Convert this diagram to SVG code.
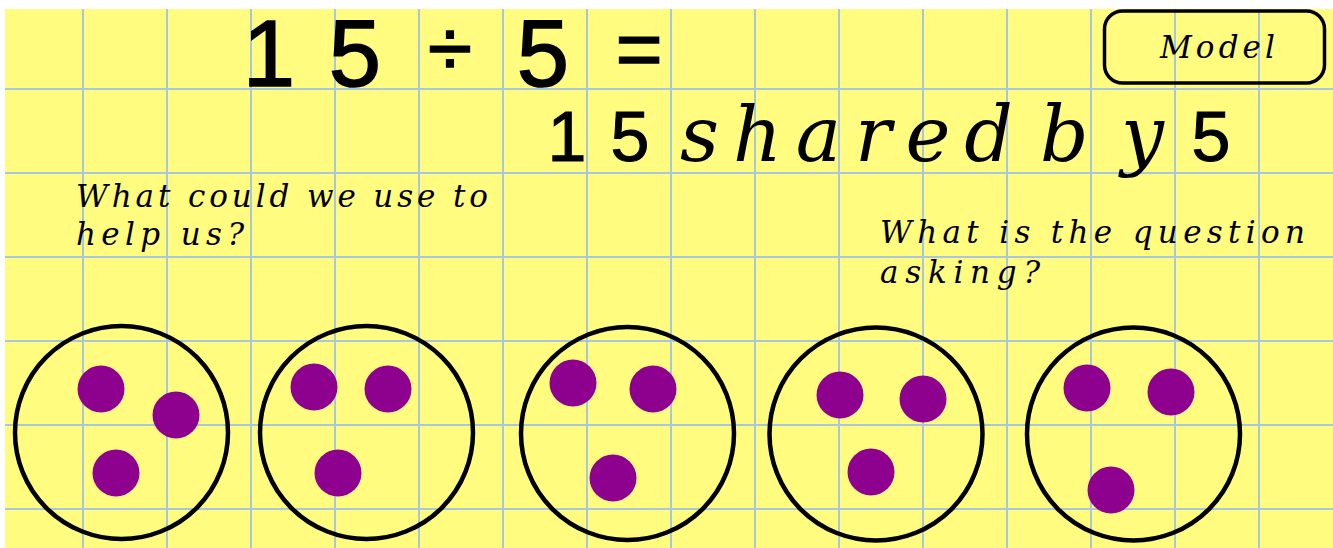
<svg xmlns="http://www.w3.org/2000/svg" width="1333" height="548" viewBox="0 0 1333 548">
<style>
.grid line{stroke:#A9C6DE;stroke-width:2}
.ring{fill:none;stroke:#000;stroke-width:4.5}
.dot{fill:#8E008E}
.sans{font-family:"Liberation Sans","DejaVu Sans",sans-serif;fill:#000}
.cur{font-family:"DejaVu Serif","Liberation Serif",serif;font-style:italic;fill:#000}
</style>
<rect x="0" y="0" width="1333" height="548" fill="#fff"/>
<rect x="5" y="9" width="1328" height="539" fill="#FFFC80"/>
<g class="grid" id="grid">
<line x1="83" y1="9" x2="83" y2="548"/><line x1="167" y1="9" x2="167" y2="548"/><line x1="251" y1="9" x2="251" y2="548"/><line x1="335" y1="9" x2="335" y2="548"/><line x1="419" y1="9" x2="419" y2="548"/><line x1="503" y1="9" x2="503" y2="548"/><line x1="587" y1="9" x2="587" y2="548"/><line x1="671" y1="9" x2="671" y2="548"/><line x1="755" y1="9" x2="755" y2="548"/><line x1="839" y1="9" x2="839" y2="548"/><line x1="923" y1="9" x2="923" y2="548"/><line x1="1007" y1="9" x2="1007" y2="548"/><line x1="1091" y1="9" x2="1091" y2="548"/><line x1="1175" y1="9" x2="1175" y2="548"/><line x1="1259" y1="9" x2="1259" y2="548"/>
<line x1="5" y1="89" x2="1333" y2="89"/><line x1="5" y1="173" x2="1333" y2="173"/><line x1="5" y1="257" x2="1333" y2="257"/><line x1="5" y1="341" x2="1333" y2="341"/><line x1="5" y1="425" x2="1333" y2="425"/><line x1="5" y1="509" x2="1333" y2="509"/>
</g>
<g id="title">
<text class="sans" text-anchor="middle" stroke="#000" stroke-width="1.6"><tspan font-size="94" x="269" y="86">1</tspan><tspan font-size="94" x="310" y="86"> </tspan><tspan font-size="94" x="355" y="86">5</tspan><tspan font-size="80" x="400" y="76"> </tspan><tspan font-size="80" x="450" y="76">÷</tspan><tspan font-size="94" x="495" y="86"> </tspan><tspan font-size="94" x="543" y="86">5</tspan><tspan font-size="80" x="590" y="76"> </tspan><tspan font-size="80" x="639" y="76">=</tspan></text>
</g>
<g id="subtitle">
<text class="sans" font-size="70" text-anchor="middle" y="161" x="567 590 630" stroke="#000" stroke-width="1">1 5 </text>
<text class="cur" font-size="76" x="680" y="161" textLength="333" lengthAdjust="spacing">shared</text>
<text class="cur" font-size="76" x="1040" y="161" textLength="124" lengthAdjust="spacing">by</text>
<text class="sans" font-size="70" text-anchor="middle" x="1211" y="161" stroke="#000" stroke-width="1">5</text>
</g>
<g id="model">
<rect x="1104.5" y="11" width="220" height="72" rx="18" ry="18" fill="none" stroke="#000" stroke-width="3.5"/>
<text class="cur" font-size="31" x="1160" y="58" textLength="115" lengthAdjust="spacing">Model</text>
</g>
<g id="q1">
<text class="cur" font-size="31" x="76" y="207" textLength="412" lengthAdjust="spacing">What could we use to</text>
<text class="cur" font-size="31" x="76" y="245" textLength="168" lengthAdjust="spacing">help us?</text>
</g>
<g id="q2">
<text class="cur" font-size="31" x="880" y="243" textLength="425" lengthAdjust="spacing">What is the question</text>
<text class="cur" font-size="31" x="880" y="283" textLength="160" lengthAdjust="spacing">asking?</text>
</g>
<g id="group1">
<circle class="ring" cx="121.5" cy="432.5" r="106.5"/>
<circle class="dot" cx="101" cy="389" r="23.5"/><circle class="dot" cx="176" cy="415" r="23.5"/><circle class="dot" cx="116" cy="473" r="23.5"/>
</g>
<g id="group2">
<circle class="ring" cx="366.5" cy="432.5" r="106.5"/>
<circle class="dot" cx="314" cy="387" r="23.5"/><circle class="dot" cx="388" cy="389" r="23.5"/><circle class="dot" cx="338" cy="473" r="23.5"/>
</g>
<g id="group3">
<circle class="ring" cx="627.5" cy="433.5" r="106.5"/>
<circle class="dot" cx="573" cy="383" r="23.5"/><circle class="dot" cx="653" cy="389" r="23.5"/><circle class="dot" cx="613" cy="478" r="23.5"/>
</g>
<g id="group4">
<circle class="ring" cx="876" cy="434" r="106.5"/>
<circle class="dot" cx="840" cy="395" r="23.5"/><circle class="dot" cx="923" cy="399" r="23.5"/><circle class="dot" cx="871" cy="472" r="23.5"/>
</g>
<g id="group5">
<circle class="ring" cx="1133.5" cy="434" r="106.5"/>
<circle class="dot" cx="1087" cy="388" r="23.5"/><circle class="dot" cx="1171" cy="392" r="23.5"/><circle class="dot" cx="1111" cy="490" r="23.5"/>
</g>
</svg>
